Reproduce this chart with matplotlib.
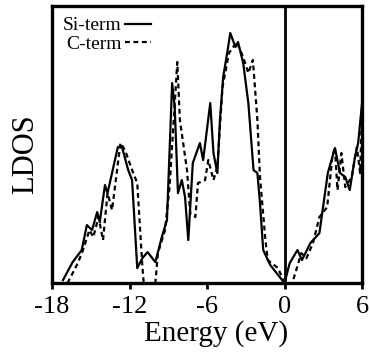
import matplotlib
matplotlib.use("Agg")
import matplotlib.pyplot as plt

# ── Data ───────────────────────────────────────────────────────────────────────

si_energy = [-17.15, -16.4, -15.7, -15.3, -14.9, -14.5, -14.3, -13.9, -13.7, -12.9,
             -12.6, -12.1, -11.8, -11.4, -11.0, -10.6, -10.0, -9.5, -9.1, -8.7,
             -8.5, -8.25, -7.95, -7.7, -7.45, -7.1, -6.55, -6.3, -5.75, -5.5,
             -5.2, -5.0, -4.75, -4.4, -4.2, -3.8, -3.6, -3.2, -2.8, -2.4,
             -2.1, -1.9, -1.65, -1.1, 0.0, 0.4, 1.0, 1.35, 2.0, 2.7,
             3.35, 3.9, 4.3, 4.7, 5.05, 5.45, 5.7, 6.0]
si_ldos = [3, 21, 33, 58, 53, 71, 61, 98, 90, 136,
           137, 113, 103, 15, 25, 31, 21, 46, 63, 200,
           176, 90, 103, 86, 43, 120, 140, 123, 180, 130,
           110, 163, 206, 233, 250, 236, 241, 220, 180, 113,
           110, 80, 33, 18, 0, 20, 33, 23, 40, 50,
           110, 135, 110, 106, 93, 126, 140, 180]

c_energy = [-16.8, -16.0, -15.6, -15.1, -14.8, -14.4, -14.05, -13.7, -13.35, -12.7,
            -12.35, -11.8, -11.4, -11.0, -10.9, -10.0, -9.8, -9.25, -8.9, -8.3,
            -8.1, -7.55, -7.3, -6.9, -6.7, -6.15, -5.9, -5.5, -5.2, -4.8,
            -4.3, -3.7, -3.2, -2.8, -2.45, -2.1, -1.9, -1.5, -1.3, -0.5,
            0.0, 0.6, 1.3, 1.7, 2.2, 2.7, 3.3, 3.7, 3.9, 4.1,
            4.4, 4.7, 5.2, 5.6, 5.85, 6.0]
c_ldos = [0, 20, 33, 53, 46, 66, 43, 90, 73, 140,
          133, 113, 100, 16, 0, 0, 30, 53, 96, 221,
          163, 113, 70, 66, 100, 103, 123, 103, 116, 196,
          230, 241, 226, 210, 223, 163, 106, 46, 23, 15,
          0, 0, 30, 25, 40, 66, 76, 126, 136, 93,
          130, 96, 106, 136, 110, 173]

x_ticks = [-18, -12, -6, 0, 6]

# ── Plot ───────────────────────────────────────────────────────────────────────

plt.rcParams["font.family"] = ["Liberation Serif", "DejaVu Serif"]

fig = plt.figure(figsize=(3.7, 3.53), dpi=100)
ax = fig.add_axes([0.1405, 0.198, 0.838, 0.785])

ax.plot(si_energy, si_ldos, color="black", linewidth=1.6, label="Si-term")
ax.plot(c_energy, c_ldos, color="black", linewidth=1.6, linestyle=(0, (2.2, 1.6)),
        label="C-term")
ax.axvline(0, color="black", linewidth=2.0)

ax.set_xlim(-18, 6)
ax.set_ylim(0, 277)
ax.set_xticks(x_ticks)
ax.set_xticklabels([str(v) for v in x_ticks], fontsize=19)
ax.set_yticks([])
ax.tick_params(axis="x", direction="out", length=4, width=2, pad=5)

for sp in ax.spines.values():
    sp.set_linewidth(2.4)

ax.set_xlabel("Energy (eV)", fontsize=21)
ax.xaxis.set_label_coords(0.529, -0.133)
ax.set_ylabel("LDOS", fontsize=22)
ax.yaxis.set_label_coords(-0.038, 0.466)

ax.legend(loc="upper left", frameon=False, markerfirst=False, fontsize=14,
          handlelength=1.3, handletextpad=0.2, borderaxespad=0.15,
          labelspacing=0.05)

fig.savefig("out.png", dpi=100)
